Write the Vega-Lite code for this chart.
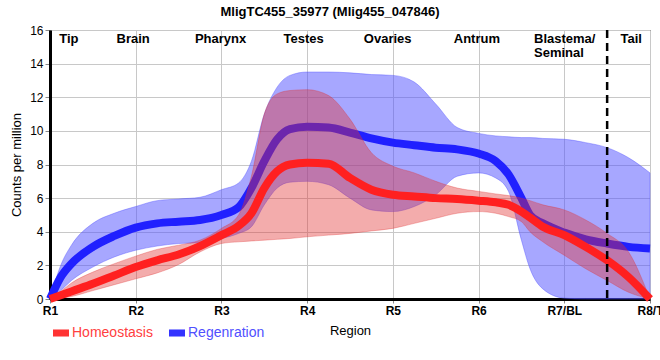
{
  "$schema": "https://vega.github.io/schema/vega-lite/v6.json",
  "width": 600,
  "height": 269,
  "autosize": {"type": "none"},
  "padding": {"left": 50, "top": 30, "right": 10, "bottom": 61},
  "background": "white",
  "title": {"text": "MligTC455_35977 (Mlig455_047846)", "font": "Liberation Sans", "fontSize": 13, "fontWeight": "bold", "anchor": "middle", "dx": -20, "offset": 5, "color": "black"},
  "datasets": {
    "curves": [
      {"x": 1, "series": "Regenration", "mean": 0, "lo": 0, "hi": 0},
      {"x": 1.125, "series": "Regenration", "mean": 1.3, "lo": 0.5, "hi": 2.0},
      {"x": 1.25, "series": "Regenration", "mean": 2.1, "lo": 1.1, "hi": 3.2},
      {"x": 1.5, "series": "Regenration", "mean": 3.1, "lo": 1.9, "hi": 4.5},
      {"x": 1.75, "series": "Regenration", "mean": 3.75, "lo": 2.5, "hi": 5.1},
      {"x": 2, "series": "Regenration", "mean": 4.25, "lo": 2.9, "hi": 5.5},
      {"x": 2.25, "series": "Regenration", "mean": 4.5, "lo": 3.15, "hi": 5.85},
      {"x": 2.5, "series": "Regenration", "mean": 4.6, "lo": 3.3, "hi": 5.95},
      {"x": 2.75, "series": "Regenration", "mean": 4.7, "lo": 3.35, "hi": 6.05},
      {"x": 3, "series": "Regenration", "mean": 5.0, "lo": 3.6, "hi": 6.5},
      {"x": 3.2, "series": "Regenration", "mean": 5.45, "lo": 3.9, "hi": 6.9},
      {"x": 3.35, "series": "Regenration", "mean": 6.6, "lo": 4.3, "hi": 8.2},
      {"x": 3.5, "series": "Regenration", "mean": 8.2, "lo": 5.6, "hi": 11.0},
      {"x": 3.65, "series": "Regenration", "mean": 9.5, "lo": 6.6, "hi": 12.6},
      {"x": 3.8, "series": "Regenration", "mean": 10.1, "lo": 6.95, "hi": 13.3},
      {"x": 4, "series": "Regenration", "mean": 10.25, "lo": 7.0, "hi": 13.5},
      {"x": 4.25, "series": "Regenration", "mean": 10.2, "lo": 6.8, "hi": 13.5},
      {"x": 4.5, "series": "Regenration", "mean": 9.9, "lo": 6.0, "hi": 13.45},
      {"x": 4.75, "series": "Regenration", "mean": 9.55, "lo": 5.3, "hi": 13.35},
      {"x": 5, "series": "Regenration", "mean": 9.3, "lo": 5.2, "hi": 13.3},
      {"x": 5.25, "series": "Regenration", "mean": 9.15, "lo": 5.5, "hi": 12.9},
      {"x": 5.5, "series": "Regenration", "mean": 9.0, "lo": 6.2, "hi": 11.6},
      {"x": 5.75, "series": "Regenration", "mean": 8.9, "lo": 7.3, "hi": 10.2},
      {"x": 6, "series": "Regenration", "mean": 8.65, "lo": 7.5, "hi": 9.85},
      {"x": 6.2, "series": "Regenration", "mean": 8.2, "lo": 7.2, "hi": 9.7},
      {"x": 6.35, "series": "Regenration", "mean": 7.4, "lo": 6.4, "hi": 9.65},
      {"x": 6.5, "series": "Regenration", "mean": 6.0, "lo": 3.5, "hi": 9.6},
      {"x": 6.6, "series": "Regenration", "mean": 5.0, "lo": 1.8, "hi": 9.6},
      {"x": 6.75, "series": "Regenration", "mean": 4.5, "lo": 0.6, "hi": 9.55},
      {"x": 7, "series": "Regenration", "mean": 3.95, "lo": 0.05, "hi": 9.5},
      {"x": 7.25, "series": "Regenration", "mean": 3.55, "lo": 0, "hi": 9.3},
      {"x": 7.5, "series": "Regenration", "mean": 3.3, "lo": 0, "hi": 9.0},
      {"x": 7.75, "series": "Regenration", "mean": 3.1, "lo": 0, "hi": 8.4},
      {"x": 8, "series": "Regenration", "mean": 3.0, "lo": 0, "hi": 7.5},
      {"x": 1, "series": "Homeostasis", "mean": 0, "lo": 0, "hi": 0},
      {"x": 1.125, "series": "Homeostasis", "mean": 0.22, "lo": 0.05, "hi": 0.45},
      {"x": 1.25, "series": "Homeostasis", "mean": 0.45, "lo": 0.15, "hi": 0.95},
      {"x": 1.5, "series": "Homeostasis", "mean": 0.9, "lo": 0.5, "hi": 1.6},
      {"x": 1.75, "series": "Homeostasis", "mean": 1.4, "lo": 0.85, "hi": 2.1},
      {"x": 2, "series": "Homeostasis", "mean": 1.9, "lo": 1.2, "hi": 2.55},
      {"x": 2.25, "series": "Homeostasis", "mean": 2.3, "lo": 1.55, "hi": 2.95},
      {"x": 2.5, "series": "Homeostasis", "mean": 2.65, "lo": 2.05, "hi": 3.2},
      {"x": 2.75, "series": "Homeostasis", "mean": 3.15, "lo": 2.8, "hi": 3.5},
      {"x": 3, "series": "Homeostasis", "mean": 3.8, "lo": 3.3, "hi": 4.2},
      {"x": 3.2, "series": "Homeostasis", "mean": 4.35, "lo": 3.4, "hi": 5.0},
      {"x": 3.35, "series": "Homeostasis", "mean": 5.1, "lo": 3.45, "hi": 7.3},
      {"x": 3.5, "series": "Homeostasis", "mean": 6.6, "lo": 3.5, "hi": 11.0},
      {"x": 3.65, "series": "Homeostasis", "mean": 7.6, "lo": 3.55, "hi": 12.2},
      {"x": 3.8, "series": "Homeostasis", "mean": 8.0, "lo": 3.6, "hi": 12.4},
      {"x": 4, "series": "Homeostasis", "mean": 8.1, "lo": 3.7, "hi": 12.45},
      {"x": 4.25, "series": "Homeostasis", "mean": 8.05, "lo": 3.8, "hi": 12.1},
      {"x": 4.5, "series": "Homeostasis", "mean": 7.2, "lo": 3.9, "hi": 10.7},
      {"x": 4.75, "series": "Homeostasis", "mean": 6.5, "lo": 4.05, "hi": 8.7},
      {"x": 5, "series": "Homeostasis", "mean": 6.2, "lo": 4.2, "hi": 7.9},
      {"x": 5.25, "series": "Homeostasis", "mean": 6.1, "lo": 4.5, "hi": 7.5},
      {"x": 5.5, "series": "Homeostasis", "mean": 6.0, "lo": 4.8, "hi": 7.0},
      {"x": 5.75, "series": "Homeostasis", "mean": 5.95, "lo": 5.1, "hi": 6.6},
      {"x": 6, "series": "Homeostasis", "mean": 5.85, "lo": 5.2, "hi": 6.4},
      {"x": 6.2, "series": "Homeostasis", "mean": 5.75, "lo": 5.1, "hi": 6.25},
      {"x": 6.35, "series": "Homeostasis", "mean": 5.6, "lo": 4.9, "hi": 6.15},
      {"x": 6.5, "series": "Homeostasis", "mean": 5.2, "lo": 4.6, "hi": 6.0},
      {"x": 6.6, "series": "Homeostasis", "mean": 4.85, "lo": 4.0, "hi": 5.85},
      {"x": 6.75, "series": "Homeostasis", "mean": 4.3, "lo": 3.4, "hi": 5.6},
      {"x": 7, "series": "Homeostasis", "mean": 3.8, "lo": 2.6, "hi": 5.3},
      {"x": 7.25, "series": "Homeostasis", "mean": 3.1, "lo": 1.8, "hi": 4.7},
      {"x": 7.5, "series": "Homeostasis", "mean": 2.3, "lo": 1.1, "hi": 3.9},
      {"x": 7.75, "series": "Homeostasis", "mean": 1.3, "lo": 0.4, "hi": 2.8},
      {"x": 8, "series": "Homeostasis", "mean": 0, "lo": 0, "hi": 0}
    ],
    "regions": [
      {"label": "Tip", "x": 1.22, "y": 15.45},
      {"label": "Brain", "x": 1.97, "y": 15.45},
      {"label": "Pharynx", "x": 2.99, "y": 15.45},
      {"label": "Testes", "x": 3.96, "y": 15.45},
      {"label": "Ovaries", "x": 4.94, "y": 15.45},
      {"label": "Antrum", "x": 5.98, "y": 15.45},
      {"label": "Tail", "x": 7.78, "y": 15.45}
    ],
    "regionsLeft": [
      {"label": "Blastema/", "x": 6.647, "y": 15.45},
      {"label": "Seminal", "x": 6.647, "y": 14.62}
    ],
    "cut": [{"x": 7.5}]
  },
  "encoding": {
    "x": {"type": "quantitative", "scale": {"domain": [1, 8], "nice": false, "zero": false},
      "axis": {"values": [1, 2, 3, 4, 5, 6, 7, 8], "labelExpr": "datum.value == 7 ? 'R7/BL' : datum.value == 8 ? 'R8/T' : 'R' + datum.value", "title": "Region"}},
    "y": {"type": "quantitative", "scale": {"domain": [0, 16], "nice": false, "zero": true},
      "axis": {"values": [0, 2, 4, 6, 8, 10, 12, 14, 16], "labelOverlap": false, "title": "Counts per million"}}
  },
  "layer": [
    {
      "data": {"name": "curves"},
      "transform": [{"filter": "datum.series === 'Regenration'"}],
      "mark": {"type": "area", "interpolate": "monotone", "color": "#5050ff", "fillOpacity": 0.5, "stroke": "#5050ff", "strokeWidth": 0.8, "strokeOpacity": 0.5},
      "encoding": {
        "x": {"field": "x"},
        "y": {"field": "lo"},
        "y2": {"field": "hi"}
      }
    },
    {
      "data": {"name": "curves"},
      "transform": [{"filter": "datum.series === 'Regenration'"}],
      "mark": {"type": "line", "interpolate": "monotone", "strokeWidth": 8},
      "encoding": {
        "x": {"field": "x"},
        "y": {"field": "mean"},
        "color": {"field": "series", "type": "nominal",
          "scale": {"domain": ["Homeostasis", "Regenration"], "range": ["#ff2020", "#2020ff"]},
          "legend": {
            "orient": "none", "legendX": 3, "legendY": 295, "direction": "horizontal", "title": null,
            "symbolType": "M-1,-0.44H1V0.44H-1Z", "symbolSize": 256, "symbolStrokeWidth": 0,
            "labelFontSize": 14, "labelFont": "Liberation Sans", "labelOffset": 3, "columnPadding": 16, "padding": 0,
            "encode": {
              "symbols": {"update": {"fill": {"signal": "datum.value === 'Homeostasis' ? '#ff3333' : '#3333ff'"}, "fillOpacity": {"value": 1}, "strokeWidth": {"value": 0}, "opacity": {"value": 1}}},
              "labels": {"update": {"fill": {"signal": "datum.value === 'Homeostasis' ? '#ff4040' : '#5050ff'"}}}
            }
          }}
      }
    },
    {
      "data": {"name": "curves"},
      "transform": [{"filter": "datum.series === 'Homeostasis'"}],
      "mark": {"type": "area", "interpolate": "monotone", "color": "#e03030", "fillOpacity": 0.4, "stroke": "#e03030", "strokeWidth": 0.8, "strokeOpacity": 0.4},
      "encoding": {
        "x": {"field": "x"},
        "y": {"field": "lo"},
        "y2": {"field": "hi"}
      }
    },
    {
      "data": {"name": "curves"},
      "transform": [{"filter": "datum.series === 'Homeostasis'"}],
      "mark": {"type": "line", "interpolate": "monotone", "strokeWidth": 8},
      "encoding": {
        "x": {"field": "x"},
        "y": {"field": "mean"},
        "color": {"field": "series", "type": "nominal"}
      }
    },
    {
      "data": {"name": "cut"},
      "mark": {"type": "rule", "color": "black", "strokeWidth": 2.5, "strokeDash": [8, 5]},
      "encoding": {"x": {"field": "x"}, "y": null}
    },
    {
      "data": {"name": "regions"},
      "mark": {"type": "text", "font": "Liberation Sans", "fontSize": 13, "fontWeight": "bold", "align": "center", "baseline": "middle", "color": "black"},
      "encoding": {
        "x": {"field": "x"},
        "y": {"field": "y"},
        "text": {"field": "label"}
      }
    },
    {
      "data": {"name": "regionsLeft"},
      "mark": {"type": "text", "font": "Liberation Sans", "fontSize": 13, "fontWeight": "bold", "align": "left", "baseline": "middle", "color": "black"},
      "encoding": {
        "x": {"field": "x"},
        "y": {"field": "y"},
        "text": {"field": "label"}
      }
    }
  ],
  "config": {
    "view": {"stroke": "black", "strokeWidth": 1},
    "axis": {
      "gridColor": "#c8c8c8", "gridWidth": 1,
      "labelFont": "Liberation Sans", "titleFont": "Liberation Sans",
      "labelColor": "black", "titleColor": "black",
      "domainColor": "black", "domainWidth": 3,
      "tickColor": "#888888", "tickSize": 5
    },
    "axisX": {"labelFontSize": 12, "labelFontWeight": "bold", "labelPadding": 2, "labelFlush": false, "titleFontSize": 13, "titleFontWeight": "normal", "titlePadding": 8, "tickSize": 4},
    "axisY": {"labelFontSize": 12, "titleFontSize": 13, "titleFontWeight": "normal", "titlePadding": 6}
  }
}
